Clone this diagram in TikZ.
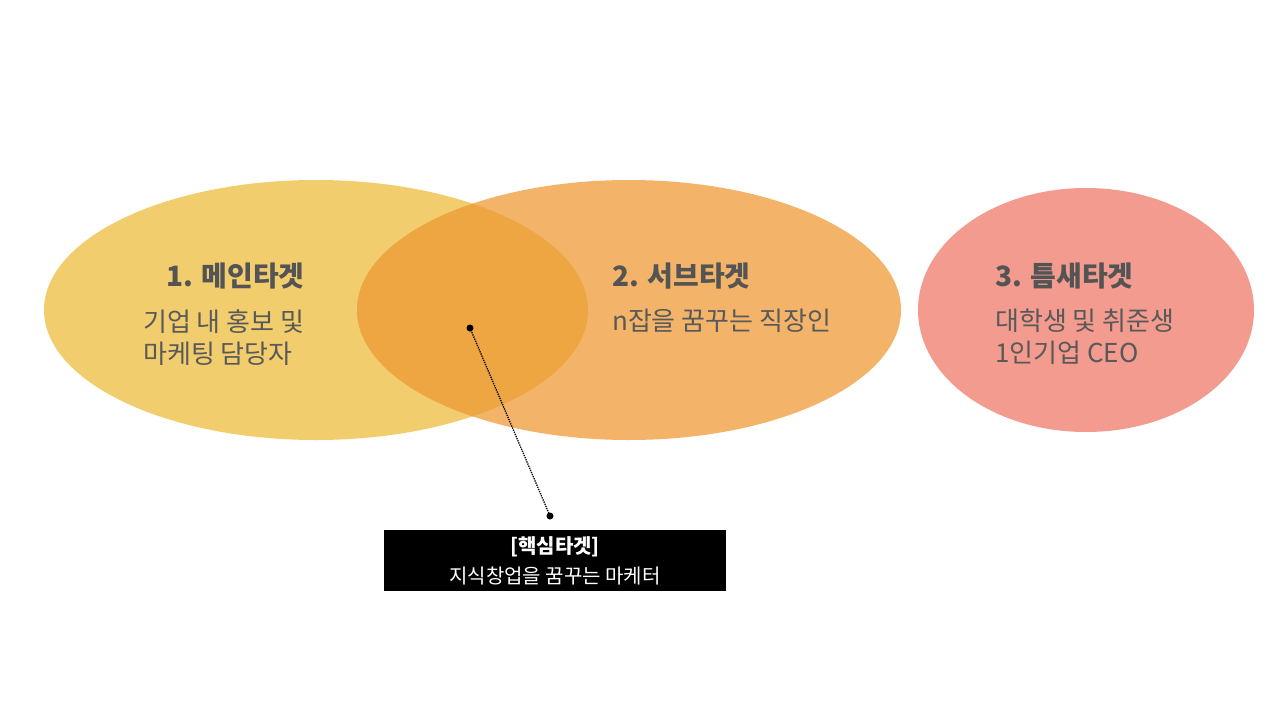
\documentclass[tikz,border=0pt]{standalone}
\usepackage{fontspec}
\setmainfont{Noto Sans CJK KR}
\newfontfamily\krb{Noto Sans CJK KR Black}
\begin{document}
\begin{tikzpicture}[x=1pt,y=-1pt,
  ttl/.style={anchor=west,text=black!67,font=\bfseries\fontsize{28}{30}\selectfont,inner sep=0},
  bdy/.style={anchor=north west,text=black!65,font=\fontsize{26}{32}\selectfont,align=left,inner sep=0}]
\useasboundingbox (0,0) rectangle (1280,720);
\fill[white] (0,0) rectangle (1280,720);
\fill[fill={rgb,255:red,241;green,205;blue,110}] (316,310) ellipse [x radius=272,y radius=130];
\fill[fill={rgb,255:red,243;green,180;blue,106}] (629,310) ellipse [x radius=272,y radius=130];
\begin{scope}
\clip (316,310) ellipse [x radius=272,y radius=130];
\fill[fill={rgb,255:red,238;green,166;blue,66}] (629,310) ellipse [x radius=272,y radius=130];
\end{scope}
\fill[fill={rgb,255:red,242;green,155;blue,142}] (1086,310) ellipse [x radius=168,y radius=122];
\node[ttl] (t1) at (166,276) {1. 메인타겟};
\node[ttl] (t2) at (612,276) {2. 서브타겟};
\node[ttl] (t3) at (995,276) {3. 틈새타겟};
\node[bdy] (b1) at (143,309) {기업 내 홍보 및\\마케팅 담당자};
\node[bdy] (b2) at (612,309) {n잡을 꿈꾸는 직장인};
\node[bdy] (b3) at (995,309) {대학생 및 취준생\\1인기업 CEO};
\fill (470,328) circle (3.5) coordinate (d1);
\fill (550,516) circle (3.5) coordinate (d2);
\draw[densely dotted,line width=1.3pt] (d1) -- (d2);
\node[fill=black,minimum width=342,minimum height=61,inner sep=0] (box) at (555,560.5) {};
\node[text=white,font=\bfseries\fontsize{20}{22}\selectfont] (k1) at (555,547) {[핵심타겟]};
\node[text=white,font=\fontsize{20}{22}\selectfont] (k2) at (555,576) {지식창업을 꿈꾸는 마케터};
\end{tikzpicture}
\end{document}
